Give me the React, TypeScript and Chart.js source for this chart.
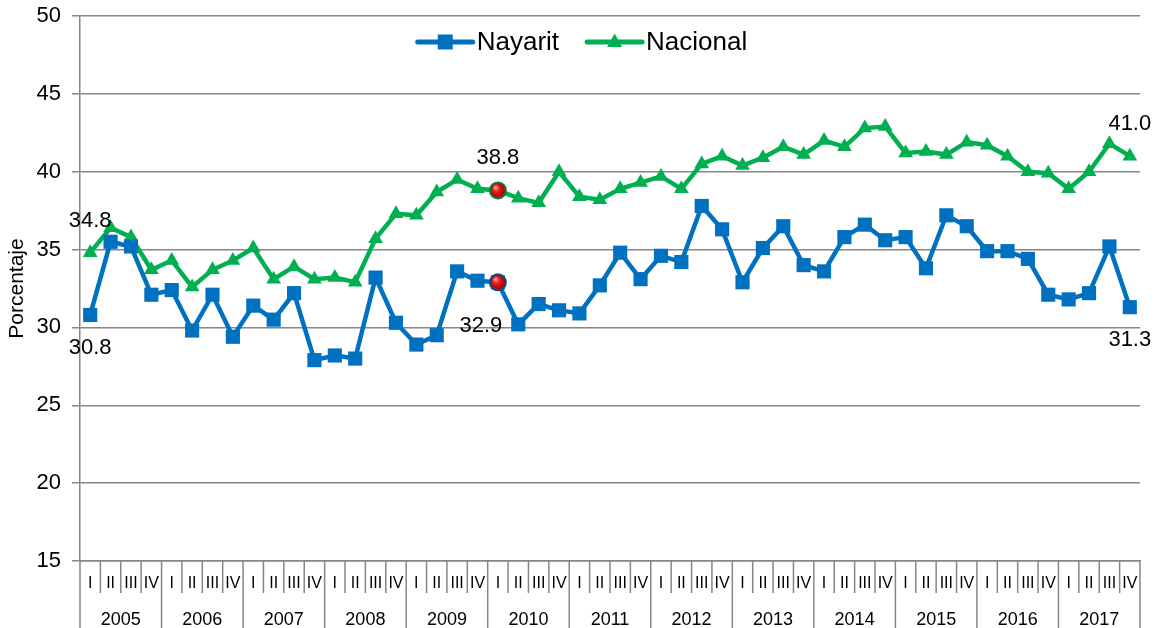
import React, { useEffect, useRef } from 'react';
import { Chart, registerables } from 'chart.js';

Chart.register(...registerables);

const years = ['2005', '2006', '2007', '2008', '2009', '2010', '2011', '2012', '2013', '2014', '2015', '2016', '2017'];
const quarters = ['I', 'II', 'III', 'IV'];
const categories = years.flatMap(() => quarters);

const nayarit = [
  30.8, 35.5, 35.2, 32.1, 32.4, 29.8, 32.1, 29.4, 31.4, 30.5, 32.2, 27.9, 28.2,
  28.0, 33.2, 30.3, 28.9, 29.5, 33.6, 33.0, 32.9, 30.2, 31.5, 31.1, 30.9, 32.7,
  34.8, 33.1, 34.6, 34.2, 37.8, 36.3, 32.9, 35.1, 36.5, 34.0, 33.6, 35.8, 36.6,
  35.6, 35.8, 33.8, 37.2, 36.5, 34.9, 34.9, 34.4, 32.1, 31.8, 32.2, 35.2, 31.3,
];

const nacional = [
  34.8, 36.4, 35.8, 33.7, 34.3, 32.6, 33.7, 34.3, 35.1, 33.1, 33.9, 33.1, 33.2,
  32.9, 35.7, 37.3, 37.2, 38.7, 39.5, 38.9, 38.8, 38.3, 38.0, 40.0, 38.4, 38.2,
  38.9, 39.3, 39.7, 38.9, 40.5, 41.0, 40.4, 40.9, 41.6, 41.1, 42.0, 41.6, 42.8,
  42.9, 41.2, 41.3, 41.1, 41.9, 41.7, 41.0, 40.0, 39.9, 38.9, 40.0, 41.8, 41.0,
];

const seriesNames = ['Nayarit', 'Nacional'];
const yTicks = [15, 20, 25, 30, 35, 40, 45, 50];
const highlightIndex = 20;
const labeledIndices = [0, 20, 51];

const BLUE = '#0070C0';
const GREEN = '#00B050';
const GRID = '#868686';
const FONT = '"Liberation Sans", Arial, sans-serif';

const separatorsPlugin = {
  id: 'separators',
  afterDraw(chart: any) {
    const xs = chart.scales.x;
    const x2 = chart.scales.x2;
    const ctx = chart.ctx;
    const n = categories.length;
    const half = (xs.getPixelForValue(1) - xs.getPixelForValue(0)) / 2;
    ctx.save();
    ctx.strokeStyle = GRID;
    ctx.lineWidth = 1.5;
    for (let i = 0; i <= n; i++) {
      const px = i === n ? xs.getPixelForValue(n - 1) + half : xs.getPixelForValue(i) - half;
      const bottom = i % 4 === 0 ? x2.bottom : xs.bottom;
      ctx.beginPath();
      ctx.moveTo(px, xs.top);
      ctx.lineTo(px, bottom);
      ctx.stroke();
    }
    ctx.restore();
  },
};

const highlightPlugin = {
  id: 'highlight',
  afterDatasetsDraw(chart: any) {
    const ctx = chart.ctx;
    const rings = ['#0a4f86', '#0b7a3a'];
    [0, 1].forEach((di) => {
      const pt = chart.getDatasetMeta(di).data[highlightIndex];
      if (!pt) return;
      const r = 8;
      const g = ctx.createRadialGradient(pt.x - 2.5, pt.y - 3, 1, pt.x, pt.y, r);
      g.addColorStop(0, '#ff8a8a');
      g.addColorStop(0.35, '#e8191a');
      g.addColorStop(1, '#9a0000');
      ctx.save();
      ctx.beginPath();
      ctx.arc(pt.x, pt.y, r, 0, Math.PI * 2);
      ctx.fillStyle = g;
      ctx.fill();
      ctx.lineWidth = 2;
      ctx.strokeStyle = rings[di];
      ctx.stroke();
      ctx.restore();
    });
  },
};

const labelsPlugin = {
  id: 'valueLabels',
  afterDatasetsDraw(chart: any) {
    const ctx = chart.ctx;
    ctx.save();
    ctx.font = `22px ${FONT}`;
    ctx.fillStyle = '#000';
    ctx.textAlign = 'center';
    ctx.textBaseline = 'middle';
    labeledIndices.forEach((idx) => {
      [0, 1].forEach((di) => {
        const pt = chart.getDatasetMeta(di).data[idx];
        const val = chart.data.datasets[di].data[idx] as number;
        let dx = 0;
        let dy = di === 1 ? -32 : 33;
        if (di === 0 && idx === highlightIndex) {
          dx = -17;
          dy = 44;
        }
        ctx.fillText(val.toFixed(1), pt.x + dx, pt.y + dy);
      });
    });
    ctx.restore();
  },
};

const legendPlugin = {
  id: 'customLegend',
  afterDraw(chart: any) {
    const ctx = chart.ctx;
    ctx.save();
    ctx.font = `26px ${FONT}`;
    const lineLen = 55;
    const gapText = 4;
    const gapItems = 28;
    const widths = seriesNames.map((s) => ctx.measureText(s).width);
    const total = widths.reduce((a, w) => a + lineLen + gapText + w, 0) + gapItems;
    let x = chart.width / 2 - total / 2 + 3;
    const y = 42;
    const colors = [BLUE, GREEN];
    seriesNames.forEach((name, i) => {
      ctx.strokeStyle = colors[i];
      ctx.lineWidth = 5;
      ctx.lineCap = 'round';
      ctx.beginPath();
      ctx.moveTo(x, y);
      ctx.lineTo(x + lineLen, y);
      ctx.stroke();
      const cx = x + lineLen / 2;
      ctx.fillStyle = colors[i];
      ctx.beginPath();
      if (i === 0) {
        ctx.rect(cx - 7.5, y - 7.5, 15, 15);
      } else {
        ctx.moveTo(cx, y - 8.5);
        ctx.lineTo(cx + 7.5, y + 5);
        ctx.lineTo(cx - 7.5, y + 5);
        ctx.closePath();
      }
      ctx.fill();
      ctx.fillStyle = '#000';
      ctx.textAlign = 'left';
      ctx.textBaseline = 'middle';
      ctx.fillText(name, x + lineLen + gapText, y + 1);
      x += lineLen + gapText + widths[i] + gapItems;
    });
    ctx.restore();
  },
};

export default function App() {
  const canvasRef = useRef<HTMLCanvasElement | null>(null);

  useEffect(() => {
    if (!canvasRef.current) return;
    const chart = new Chart(canvasRef.current, {
      type: 'line',
      data: {
        labels: categories,
        datasets: [
          {
            label: seriesNames[0],
            data: nayarit,
            borderColor: BLUE,
            backgroundColor: BLUE,
            borderWidth: 4.5,
            pointStyle: 'rect',
            pointRadius: 10,
            pointBorderWidth: 0,
            pointBackgroundColor: BLUE,
            tension: 0,
          },
          {
            label: seriesNames[1],
            data: nacional,
            borderColor: GREEN,
            backgroundColor: GREEN,
            borderWidth: 4.5,
            pointStyle: 'triangle',
            pointRadius: 8.5,
            pointBorderWidth: 0,
            pointBackgroundColor: GREEN,
            tension: 0,
          },
        ],
      },
      options: {
        animation: false,
        responsive: true,
        maintainAspectRatio: false,
        layout: { padding: { top: 16, right: 19, left: 0, bottom: 0 } },
        plugins: {
          legend: { display: false },
          tooltip: { enabled: false },
        },
        scales: {
          x: {
            type: 'category',
            position: 'bottom',
            weight: 0,
            offset: true,
            grid: { display: false },
            border: { display: true, color: GRID, width: 1.5 },
            ticks: {
              autoSkip: false,
              maxRotation: 0,
              minRotation: 0,
              padding: 5,
              color: '#000',
              font: { family: FONT, size: 16 },
              callback: (_v: any, i: number) => categories[i],
            },
            afterFit: (s: any) => {
              s.height = 32;
            },
          },
          x2: {
            type: 'category',
            position: 'bottom',
            weight: 1,
            labels: years,
            offset: true,
            grid: { display: false },
            border: { display: false },
            ticks: {
              autoSkip: false,
              maxRotation: 0,
              minRotation: 0,
              padding: 8,
              color: '#000',
              font: { family: FONT, size: 18 },
            },
            afterFit: (s: any) => {
              s.height = 35;
            },
          },
          y: {
            min: yTicks[0],
            max: yTicks[yTicks.length - 1],
            afterBuildTicks: (s: any) => {
              s.ticks = yTicks.map((v) => ({ value: v }));
            },
            grid: {
              color: GRID,
              lineWidth: 1.5,
              drawTicks: true,
              tickLength: 8,
              tickColor: GRID,
            },
            border: { display: true, color: GRID, width: 1.5 },
            ticks: {
              padding: 11,
              color: '#000',
              font: { family: FONT, size: 22 },
            },
            title: {
              display: true,
              text: 'Porcentaje',
              color: '#000',
              font: { family: FONT, size: 21 },
              padding: { top: 5, bottom: 0 },
            },
            afterFit: (s: any) => {
              s.width = 80;
              s.paddingTop = 0;
              s.paddingBottom = 0;
            },
          },
        },
      },
      plugins: [separatorsPlugin, highlightPlugin, labelsPlugin, legendPlugin],
    } as any);
    return () => chart.destroy();
  }, []);

  return (
    <div style={{ position: 'absolute', left: 0, top: 0, width: 1159, height: 628 }}>
      <canvas ref={canvasRef} />
    </div>
  );
}
